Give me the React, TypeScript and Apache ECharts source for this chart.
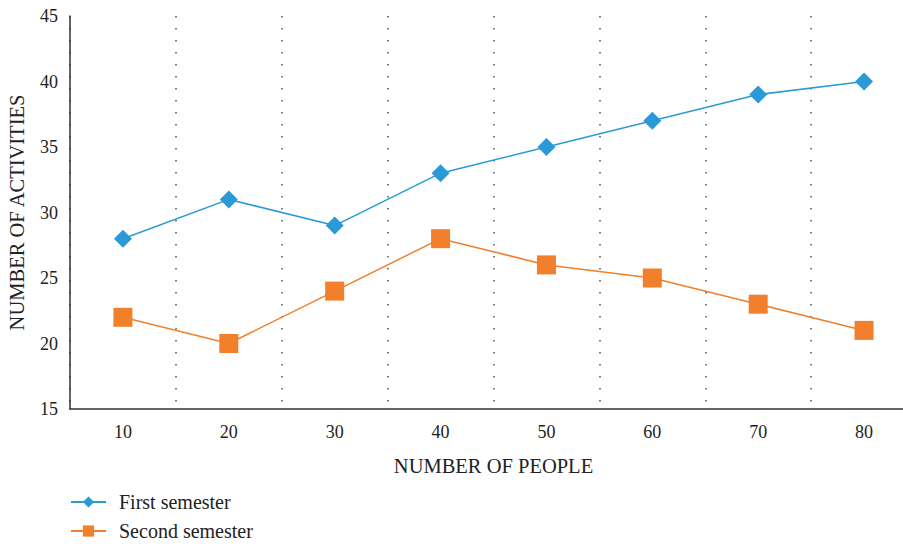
import React, { useEffect, useRef } from "react";
import * as echarts from "echarts";

const categories = ["10", "20", "30", "40", "50", "60", "70", "80"];
const firstSemester = [28, 31, 29, 33, 35, 37, 39, 40];
const secondSemester = [22, 20, 24, 28, 26, 25, 23, 21];
const seriesNames = ["First semester", "Second semester"];

const FONT = "'Liberation Serif', 'DejaVu Serif', serif";

export default function App() {
  const ref = useRef<HTMLDivElement>(null);
  useEffect(() => {
    if (!ref.current) return;
    const chart = echarts.init(ref.current, undefined, { renderer: "svg" });
    chart.setOption({
      animation: false,
      textStyle: { fontFamily: FONT },
      grid: {
        left: 70,
        top: 16,
        bottom: 135,
        right: 0,
        containLabel: false,
        outerBoundsMode: "none",
      },
      legend: {
        orient: "vertical",
        left: 70,
        top: 492,
        height: 60,
        padding: 0,
        itemGap: 9,
        itemWidth: 35,
        itemHeight: 14,
        textStyle: { fontFamily: FONT, fontSize: 20, color: "#222", padding: [0, 0, 0, 8] },
        data: seriesNames,
      },
      xAxis: {
        type: "category",
        data: categories,
        boundaryGap: true,
        name: "NUMBER OF PEOPLE",
        nameLocation: "middle",
        nameGap: 46,
        nameTextStyle: { fontFamily: FONT, fontSize: 20.5, color: "#222" },
        axisLine: { show: true, lineStyle: { color: "#333", width: 1.5 } },
        axisTick: { show: false },
        axisLabel: { fontFamily: FONT, fontSize: 18, color: "#222", margin: 14 },
        splitLine: {
          show: true,
          lineStyle: { color: "#555", width: 1.5, type: [1.5, 10.5] },
        },
      },
      yAxis: {
        type: "value",
        min: 15,
        max: 45,
        interval: 5,
        name: "NUMBER OF ACTIVITIES",
        nameLocation: "middle",
        nameGap: 43,
        nameTextStyle: { fontFamily: FONT, fontSize: 20.5, color: "#222" },
        axisLine: { show: true, lineStyle: { color: "#333", width: 1.5 } },
        axisTick: { show: false },
        axisLabel: { fontFamily: FONT, fontSize: 18, color: "#222", margin: 12 },
        splitLine: { show: false },
      },
      series: [
        {
          name: seriesNames[0],
          type: "line",
          data: firstSemester,
          symbol: "diamond",
          symbolSize: 18,
          itemStyle: { color: "#2a9ad6" },
          lineStyle: { color: "#2a9ad6", width: 1.5 },
        },
        {
          name: seriesNames[1],
          type: "line",
          data: secondSemester,
          symbol: "rect",
          symbolSize: 19,
          itemStyle: { color: "#f17f2b" },
          lineStyle: { color: "#f17f2b", width: 1.5 },
        },
      ],
    });
    return () => chart.dispose();
  }, []);
  return (
    <div style={{ position: "fixed", left: 0, top: 0, width: 903, height: 544, overflow: "hidden", background: "#fff" }}>
      <div ref={ref} style={{ width: 917, height: 544 }} />
    </div>
  );
}
